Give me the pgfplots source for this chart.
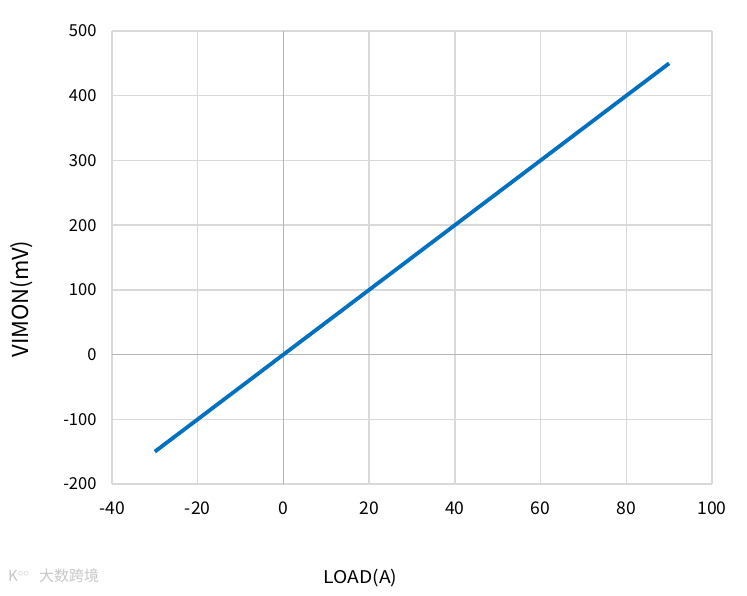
\documentclass[border=0pt]{standalone}
\usepackage{fontspec}
\setmainfont{Noto Sans CJK SC}
\usepackage{pgfplots}
\pgfplotsset{compat=1.18}
\definecolor{lineblue}{HTML}{0070C0}
\definecolor{gridgray}{HTML}{D9D9D9}
\definecolor{zerogray}{HTML}{B4B4B4}
\begin{document}
\begin{tikzpicture}[x=1pt,y=1pt]
\useasboundingbox (-112,-112) rectangle (635,484);
\begin{axis}[
  at={(0,0)}, anchor=south west,
  scale only axis, width=600pt, height=453pt,
  xmin=-40, xmax=100, ymin=-200, ymax=500,
  xtick={-40,-20,...,100}, ytick={-200,-100,...,500},
  axis line style={draw=none},
  major tick length=0pt,
  grid=major,
  major grid style={draw=gridgray, line width=1.3pt},
  /pgf/number format/assume math mode=true,
  xticklabel style={font=\fontsize{17.5}{20}\selectfont, yshift=-14pt},
  yticklabel style={font=\fontsize{16.5}{19}\selectfont, xshift=-12pt},
  xlabel={\scalebox{1.1}[1]{LOAD(A)}},
  ylabel={VIMON(mV)},
  xlabel style={font=\fontsize{17.5}{20}\selectfont, at={(axis description cs:0.414,-0.207)}, anchor=center},
  ylabel style={font=\fontsize{22}{25}\selectfont, at={(axis description cs:-0.150,0.408)}, anchor=center},
  clip=false,
]
\addplot[draw=zerogray, line width=1.3pt, forget plot] coordinates {(-40,0) (100,0)};
\addplot[draw=zerogray, line width=1.3pt, forget plot] coordinates {(0,-200) (0,500)};
\addplot[draw=lineblue, line width=3.8pt] coordinates {(-30,-150) (90,450)};
\end{axis}
\node[anchor=west, text=black!22, font=\fontsize{15}{17}\selectfont, inner sep=0pt] at (-73,-92) {大数跨境};
\node[anchor=west, text=black!22, font=\fontsize{15}{17}\selectfont, inner sep=0pt] at (-104,-92) {K$^{\circ\circ}$};
\end{tikzpicture}
\end{document}
